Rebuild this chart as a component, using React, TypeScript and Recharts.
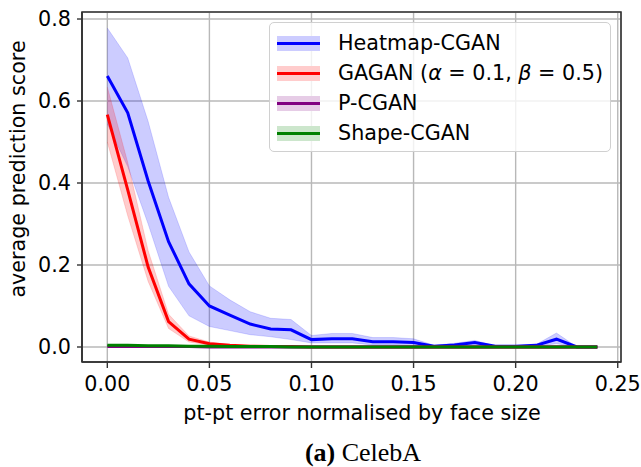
import { ComposedChart, Line, Area, XAxis, YAxis, CartesianGrid, ReferenceArea } from "recharts";

// pt-pt error thresholds (normalised by face size)
const errorSteps = [
  0, 0.01, 0.02, 0.03, 0.04, 0.05, 0.06, 0.07, 0.08, 0.09, 0.1, 0.11, 0.12,
  0.13, 0.14, 0.15, 0.16, 0.17, 0.18, 0.19, 0.2, 0.21, 0.22, 0.23, 0.24,
];

const heatmapMean = [
  0.661, 0.571, 0.405, 0.257, 0.154, 0.1, 0.078, 0.056, 0.044, 0.042, 0.018, 0.02, 0.02,
  0.013, 0.013, 0.011, 0.002, 0.005, 0.011, 0.002, 0.002, 0.004, 0.019, 0.0, 0.0,
];
const heatmapUpper = [
  0.778, 0.705, 0.55, 0.365, 0.232, 0.149, 0.115, 0.086, 0.07, 0.067, 0.028, 0.033, 0.033,
  0.023, 0.023, 0.02, 0.004, 0.009, 0.016, 0.003, 0.003, 0.006, 0.034, 0.0, 0.0,
];
const heatmapLower = [
  0.544, 0.44, 0.3, 0.148, 0.076, 0.05, 0.04, 0.03, 0.025, 0.018, 0.01, 0.01, 0.01,
  0.005, 0.005, 0.003, 0.0, 0.002, 0.007, 0.0, 0.0, 0.002, 0.008, 0.0, 0.0,
];

const gaganMean = [
  0.567, 0.383, 0.195, 0.062, 0.019, 0.008, 0.004, 0.002, 0.001, 0.001, 0, 0, 0,
  0, 0, 0, 0, 0, 0, 0, 0, 0, 0, 0, 0,
];
const gaganUpper = [
  0.634, 0.45, 0.235, 0.08, 0.027, 0.012, 0.006, 0.003, 0.002, 0.001, 0, 0, 0,
  0, 0, 0, 0, 0, 0, 0, 0, 0, 0, 0, 0,
];
const gaganLower = [
  0.5, 0.32, 0.16, 0.045, 0.012, 0.005, 0.002, 0.001, 0, 0, 0, 0, 0,
  0, 0, 0, 0, 0, 0, 0, 0, 0, 0, 0, 0,
];

const pcganMean = [
  0.001, 0.001, 0.001, 0.001, 0.001, 0, 0, 0, 0, 0, 0, 0, 0,
  0, 0, 0, 0, 0, 0, 0, 0, 0, 0, 0, 0,
];

const shapeMean = [
  0.004, 0.004, 0.003, 0.003, 0.002, 0.002, 0.001, 0.001, 0.001, 0, 0, 0, 0,
  0, 0, 0, 0, 0, 0, 0, 0, 0, 0, 0, 0,
];

const xTicks = [0, 0.05, 0.1, 0.15, 0.2, 0.25];
const yTicks = [0, 0.2, 0.4, 0.6, 0.8];
const xDomain = [-0.0124, 0.2516];
const yDomain = [-0.0366, 0.8171];

const legendItems = [
  { name: "Heatmap-CGAN", color: "#0000ff" },
  { name: "GAGAN", color: "#ff0000" },
  { name: "P-CGAN", color: "#800080" },
  { name: "Shape-CGAN", color: "#008000" },
];

const data = errorSteps.map((x, i) => ({
  x,
  heatmap: heatmapMean[i],
  heatmapBand: [heatmapLower[i], heatmapUpper[i]],
  gagan: gaganMean[i],
  gaganBand: [gaganLower[i], gaganUpper[i]],
  pcgan: pcganMean[i],
  pcganBand: [pcganMean[i], pcganMean[i]],
  shape: shapeMean[i],
  shapeBand: [shapeMean[i], shapeMean[i]],
}));

const font = "'DejaVu Sans', sans-serif";
const fs = 20.7;
const tickStyle = { fill: "#000", fontSize: fs, fontFamily: font };

function legendLabel(name: string) {
  if (name === "GAGAN") {
    return (
      <span>
        GAGAN (<i>α</i> = 0.1, <i>β</i> = 0.5)
      </span>
    );
  }
  return <span>{name}</span>;
}

export default function App() {
  return (
    <div style={{ position: "absolute", left: 0, top: 0, width: 641, height: 467, background: "#fff" }}>
      <ComposedChart
        width={641}
        height={467}
        data={data}
        margin={{ top: 12, right: 20, left: 0, bottom: 0 }}
      >
        <CartesianGrid stroke="#b8b8b8" strokeWidth={1.4} />
        <XAxis
          dataKey="x"
          type="number"
          domain={xDomain}
          ticks={xTicks}
          tickFormatter={(v) => v.toFixed(2)}
          height={105}
          tick={tickStyle}
          tickSize={6}
          tickMargin={8}
          axisLine={{ stroke: "#333", strokeWidth: 1.6 }}
          tickLine={{ stroke: "#333", strokeWidth: 1.4 }}
          allowDataOverflow
        />
        <YAxis
          type="number"
          domain={yDomain}
          ticks={yTicks}
          tickFormatter={(v) => v.toFixed(1)}
          width={82}
          tick={tickStyle}
          tickSize={5}
          tickMargin={6}
          axisLine={{ stroke: "#333", strokeWidth: 1.6 }}
          tickLine={{ stroke: "#333", strokeWidth: 1.4 }}
          allowDataOverflow
        />
        <ReferenceArea
          x1={xDomain[0]}
          x2={xDomain[1]}
          y1={yDomain[0]}
          y2={yDomain[1]}
          fill="none"
          stroke="#333"
          strokeWidth={1.6}
          ifOverflow="visible"
        />
        <Area dataKey="heatmapBand" type="linear" fill="#0000ff" fillOpacity={0.2} stroke="#0000ff" strokeOpacity={0.15} isAnimationActive={false} />
        <Line dataKey="heatmap" type="linear" stroke="#0000ff" strokeWidth={3} dot={false} isAnimationActive={false} />
        <Area dataKey="gaganBand" type="linear" fill="#ff0000" fillOpacity={0.2} stroke="#ff0000" strokeOpacity={0.15} isAnimationActive={false} />
        <Line dataKey="gagan" type="linear" stroke="#ff0000" strokeWidth={3} dot={false} isAnimationActive={false} />
        <Area dataKey="pcganBand" type="linear" fill="#800080" fillOpacity={0.2} stroke="none" isAnimationActive={false} />
        <Line dataKey="pcgan" type="linear" stroke="#800080" strokeWidth={3} dot={false} isAnimationActive={false} />
        <Area dataKey="shapeBand" type="linear" fill="#008000" fillOpacity={0.2} stroke="none" isAnimationActive={false} />
        <Line dataKey="shape" type="linear" stroke="#008000" strokeWidth={3} dot={false} isAnimationActive={false} />
      </ComposedChart>

      <svg
        width={641}
        height={467}
        style={{ position: "absolute", left: 0, top: 0, pointerEvents: "none" }}
      >
        <text x={362} y={420} textAnchor="middle" fontSize={fs} fontFamily={font} fill="#000">
          pt-pt error normalised by face size
        </text>
        <text
          x={25}
          y={169}
          textAnchor="middle"
          fontSize={fs}
          fontFamily={font}
          fill="#000"
          transform="rotate(-90 25 169)"
        >
          average prediction score
        </text>
        <text x={363} y={461} textAnchor="middle" fontSize={26} fontFamily="'Liberation Serif', serif" fill="#000">
          <tspan fontWeight="bold">(a)</tspan>
          <tspan> CelebA</tspan>
        </text>
      </svg>

      <div
        style={{
          position: "absolute",
          left: 269,
          top: 22,
          width: 342,
          height: 130,
          boxSizing: "border-box",
          border: "1px solid #d0d0d0",
          borderRadius: 5,
          background: "rgba(255,255,255,0.8)",
          fontFamily: font,
          fontSize: fs,
          color: "#000",
          paddingTop: 5,
        }}
      >
        {legendItems.map((item) => (
          <div key={item.name} style={{ display: "flex", alignItems: "center", height: 30 }}>
            <div
              style={{
                position: "relative",
                marginLeft: 7,
                width: 43,
                height: 15,
                background: item.color,
              }}
            >
              <div style={{ position: "absolute", inset: 0, background: "#fff", opacity: 0.8 }} />
              <div
                style={{
                  position: "absolute",
                  left: 0,
                  right: 0,
                  top: 6,
                  height: 3,
                  background: item.color,
                }}
              />
            </div>
            <div style={{ marginLeft: 18, lineHeight: "30px", whiteSpace: "nowrap" }}>{legendLabel(item.name)}</div>
          </div>
        ))}
      </div>
    </div>
  );
}
